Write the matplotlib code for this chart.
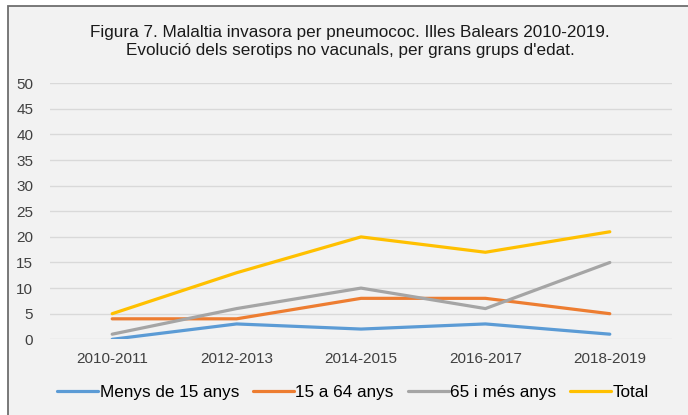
import matplotlib.pyplot as plt
from matplotlib.patches import Rectangle

# dades
periodes = ['2010-2011', '2012-2013', '2014-2015', '2016-2017', '2018-2019']
menys_15 = [0, 3, 2, 3, 1]
de_15_a_64 = [4, 4, 8, 8, 5]
mes_65 = [1, 6, 10, 6, 15]
total = [5, 13, 20, 17, 21]
y_ticks = list(range(0, 55, 5))

plt.rcParams['font.family'] = ['Liberation Sans', 'DejaVu Sans']

fig = plt.figure(figsize=(6.88, 4.15), dpi=100)
fig.patch.set_facecolor('white')

# marc gris del gràfic (retallat a la dreta i a baix)
fig.patches.append(Rectangle((7.5 / 688, -0.2), 1.2, 1 - 6 / 415 + 0.2,
                             transform=fig.transFigure, facecolor='#f2f2f2',
                             edgecolor='#6e6e6e', linewidth=1.3, zorder=-5))

ax = fig.add_axes([50 / 688, 1 - 339.3 / 415, 622 / 688, 256 / 415])
ax.set_facecolor('none')

x = range(len(periodes))
ax.plot(x, menys_15, color='#5B9BD5', lw=2.3, label='Menys de 15 anys', solid_capstyle='round')
ax.plot(x, de_15_a_64, color='#ED7D31', lw=2.3, label='15 a 64 anys', solid_capstyle='round')
ax.plot(x, mes_65, color='#A5A5A5', lw=2.3, label='65 i més anys', solid_capstyle='round')
ax.plot(x, total, color='#FFC000', lw=2.3, label='Total', solid_capstyle='round')

ax.set_xlim(-0.5, 4.5)
ax.set_ylim(0, 50)
ax.set_yticks(y_ticks)
ax.set_xticks(list(x))
ax.set_xticklabels(periodes)
ax.grid(axis='y', color='#d9d9d9', lw=1)
ax.set_axisbelow(True)
for s in ax.spines.values():
    s.set_visible(False)
ax.tick_params(axis='both', length=0, labelsize=11, colors='#404040')
ax.tick_params(axis='y', pad=12)
ax.tick_params(axis='x', pad=9)

fig.text(350 / 688, 1 - 33 / 415, 'Figura 7. Malaltia invasora per pneumococ. Illes Balears 2010-2019.',
         ha='center', va='center', fontsize=12.3, color='#1a1a1a')
fig.text(350 / 688, 1 - 50.5 / 415, "Evolució dels serotips no vacunals, per grans grups d'edat.",
         ha='center', va='center', fontsize=12.3, color='#1a1a1a')

fig.legend(loc='center', bbox_to_anchor=(353 / 688, 1 - 392 / 415), ncol=4, frameon=False,
           fontsize=12.3, handlelength=2.4, handletextpad=0.1, columnspacing=0.8)

plt.savefig('out.png', dpi=100)
